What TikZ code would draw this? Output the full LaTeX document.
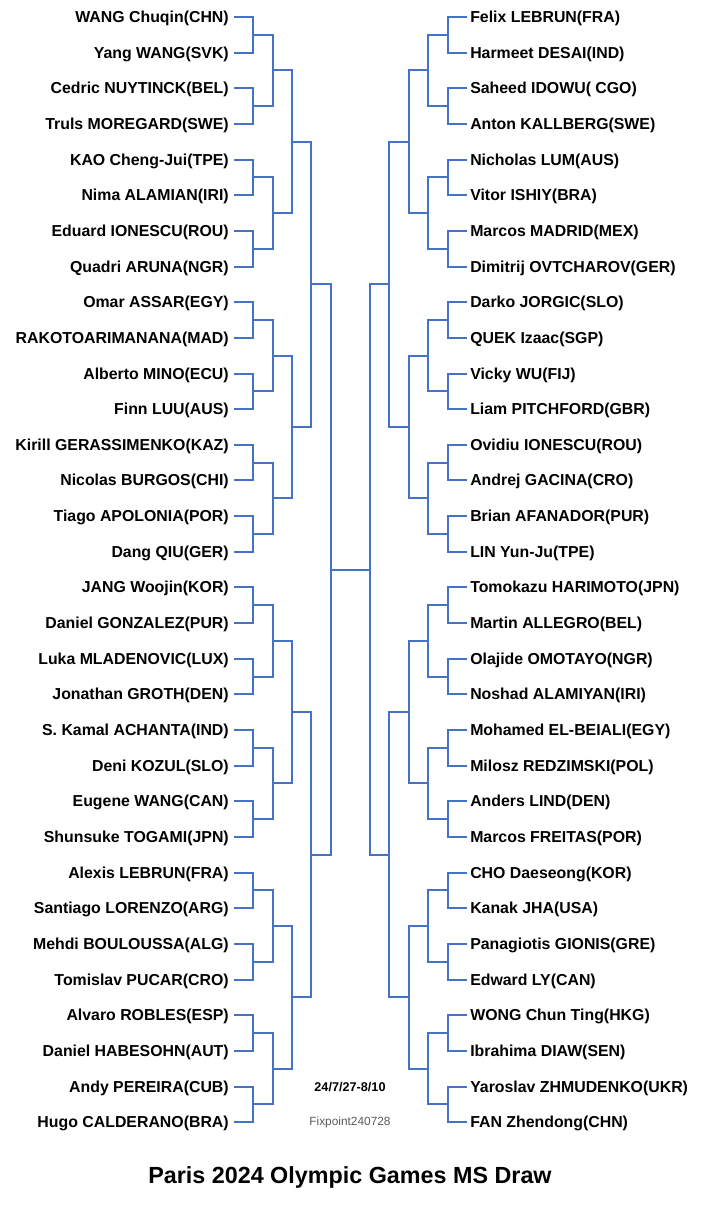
\documentclass[tikz,border=0pt]{standalone}
\usepackage{fontspec}
\setmainfont{Liberation Sans}
\usetikzlibrary{calc}
\definecolor{drawblue}{RGB}{68,114,196}
\definecolor{fixgray}{RGB}{90,90,90}

\begin{document}
\begin{tikzpicture}[x=0.75pt, y=-0.75pt,
  player/.style={font=\bfseries\fontsize{11.9}{13}\selectfont,
    inner ysep=0pt, text height=10pt, text depth=1.75pt},
  bracket/.style={drawblue, line width=1.5pt, line join=miter}]

  \useasboundingbox (0,0) rectangle (700,1212);

  %% =============== Left half of the draw ===============
  \foreach \name [count=\i] in {WANG Chuqin(CHN), Yang WANG(SVK),
      Cedric NUYTINCK(BEL), Truls MOREGARD(SWE), KAO Cheng-Jui(TPE),
      Nima ALAMIAN(IRI), Eduard IONESCU(ROU), Quadri ARUNA(NGR),
      Omar ASSAR(EGY), RAKOTOARIMANANA(MAD), Alberto MINO(ECU),
      Finn LUU(AUS), Kirill GERASSIMENKO(KAZ), Nicolas BURGOS(CHI),
      Tiago APOLONIA(POR), Dang QIU(GER), JANG Woojin(KOR),
      Daniel GONZALEZ(PUR), Luka MLADENOVIC(LUX), Jonathan GROTH(DEN),
      S. Kamal ACHANTA(IND), Deni KOZUL(SLO), Eugene WANG(CAN),
      Shunsuke TOGAMI(JPN), Alexis LEBRUN(FRA), Santiago LORENZO(ARG),
      Mehdi BOULOUSSA(ALG), Tomislav PUCAR(CRO), Alvaro ROBLES(ESP),
      Daniel HABESOHN(AUT), Andy PEREIRA(CUB), Hugo CALDERANO(BRA)} {
    \node[player, anchor=east, inner xsep=3.75pt] (L\i)
      at (234, {17+(\i-1)*35.65}) {\name};
  }

  %% =============== Right half of the draw ===============
  \foreach \name [count=\i] in {Felix LEBRUN(FRA), Harmeet DESAI(IND),
      Saheed IDOWU( CGO), Anton KALLBERG(SWE), Nicholas LUM(AUS),
      Vitor ISHIY(BRA), Marcos MADRID(MEX), Dimitrij OVTCHAROV(GER),
      Darko JORGIC(SLO), QUEK Izaac(SGP), Vicky WU(FIJ),
      Liam PITCHFORD(GBR), Ovidiu IONESCU(ROU), Andrej GACINA(CRO),
      Brian AFANADOR(PUR), LIN Yun-Ju(TPE), Tomokazu HARIMOTO(JPN),
      Martin ALLEGRO(BEL), Olajide OMOTAYO(NGR), Noshad ALAMIYAN(IRI),
      Mohamed EL-BEIALI(EGY), Milosz REDZIMSKI(POL), Anders LIND(DEN),
      Marcos FREITAS(POR), CHO Daeseong(KOR), Kanak JHA(USA),
      Panagiotis GIONIS(GRE), Edward LY(CAN), WONG Chun Ting(HKG),
      Ibrahima DIAW(SEN), Yaroslav ZHMUDENKO(UKR), FAN Zhendong(CHN)} {
    \node[player, anchor=west, inner xsep=2.25pt] (R\i)
      at (467, {17+(\i-1)*35.65}) {\name};
  }

  % --- First round brackets ---
  \foreach \k in {1,...,16} {
    \pgfmathtruncatemacro\ia{2*\k-1}
    \pgfmathtruncatemacro\ib{2*\k}
    \coordinate (LA1-\k) at ($(L\ia.east)!.5!(L\ib.east)+(19.3,0)$);
    \coordinate (RA1-\k) at ($(R\ia.west)!.5!(R\ib.west)+(-19.5,0)$);
    \draw[bracket] (L\ia.east) -| (LA1-\k) |- (L\ib.east);
    \draw[bracket] (R\ia.west) -| (RA1-\k) |- (R\ib.west);
  }

  % --- Later rounds ---
  \foreach \r/\n in {2/8, 3/4, 4/2, 5/1} {
    \pgfmathtruncatemacro\p{\r-1}
    \foreach \k in {1,...,\n} {
      \pgfmathtruncatemacro\ia{2*\k-1}
      \pgfmathtruncatemacro\ib{2*\k}
      \coordinate (LA\r-\k) at ($(LA\p-\ia)!.5!(LA\p-\ib)+(19.3,0)$);
      \coordinate (RA\r-\k) at ($(RA\p-\ia)!.5!(RA\p-\ib)+(-19.5,0)$);
      \draw[bracket] (LA\p-\ia) -| (LA\r-\k) |- (LA\p-\ib);
      \draw[bracket] (RA\p-\ia) -| (RA\r-\k) |- (RA\p-\ib);
    }
  }

  % --- Final ---
  \draw[bracket] (LA5-1) -- (RA5-1);

  % --- Dates, stamp and title ---
  \node[font=\bfseries\fontsize{9.5}{11}\selectfont] (dates)
    at (350, 1087) {24/7/27-8/10};
  \node[font=\fontsize{8.9}{10}\selectfont, text=fixgray] (stamp)
    at (350, 1122) {Fixpoint240728};
  \node[font=\bfseries\fontsize{17.5}{20}\selectfont, anchor=base] (title)
    at (350, 1183) {Paris 2024 Olympic Games MS Draw};

\end{tikzpicture}
\end{document}
